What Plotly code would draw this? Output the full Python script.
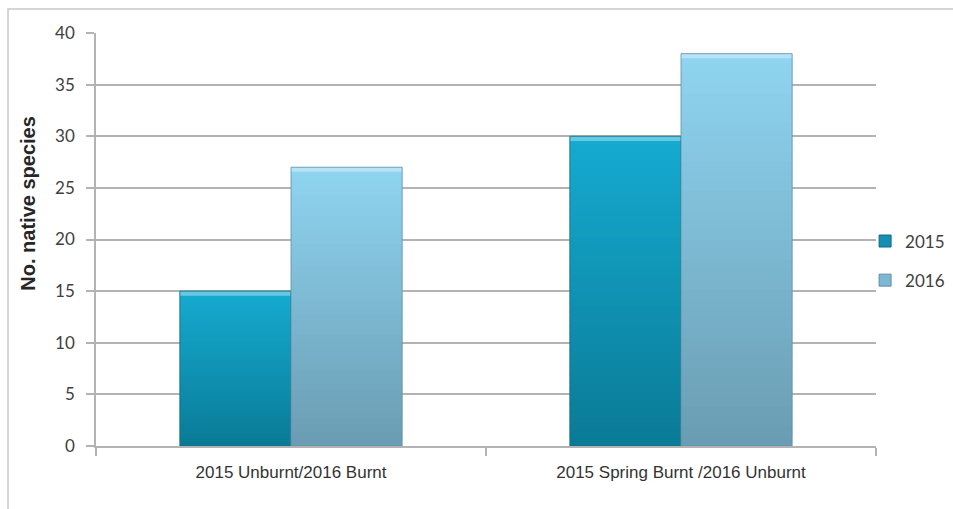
import plotly.graph_objects as go

# Native species counts per treatment, by survey year
categories = ["2015 Unburnt/2016 Burnt", "2015 Spring Burnt /2016 Unburnt"]
years = ["2015", "2016"]
species_2015 = [15, 30]
species_2016 = [27, 38]
y_ticks = [0, 5, 10, 15, 20, 25, 30, 35, 40]

series = {"2015": species_2015, "2016": species_2016}
# top colour, bottom colour, edge colour, legend swatch
styles = {
    "2015": ("#15aad0", "#0a7b97", "#0b6e87", "#1590b2"),
    "2016": ("#8fd4f0", "#6a9db3", "#5f8fa5", "#7cb8d2"),
}

N_SLICES = 40
BEVEL = 0.45


def hex_to_rgb(h):
    h = h.lstrip("#")
    return tuple(int(h[i:i + 2], 16) for i in (0, 2, 4))


def mix(c1, c2, t):
    a, b = hex_to_rgb(c1), hex_to_rgb(c2)
    return "rgb({},{},{})".format(*[round(a[i] + (b[i] - a[i]) * t) for i in range(3)])


fig = go.Figure()

for year in years:
    vals = series[year]
    top, bottom, edge, swatch = styles[year]
    # vertical gradient: stack thin slices from the bottom of each bar up to its value;
    # every slice but the last overlaps the next one so no seams show
    for k in range(N_SLICES):
        t = k / (N_SLICES - 1)
        stretch = 1.8 if k < N_SLICES - 1 else 1.0
        fig.add_trace(go.Bar(
            x=categories,
            y=[v / N_SLICES * stretch for v in vals],
            base=[v * k / N_SLICES for v in vals],
            offsetgroup=year,
            marker=dict(color=mix(bottom, top, t), line=dict(width=0)),
            showlegend=False,
            hoverinfo="skip",
        ))
    # lighter bevel along the top edge
    fig.add_trace(go.Bar(
        x=categories,
        y=[BEVEL for v in vals],
        base=[v - BEVEL for v in vals],
        offsetgroup=year,
        marker=dict(color=mix(top, "#ffffff", 0.35), line=dict(width=0)),
        showlegend=False,
        hoverinfo="skip",
    ))
    # outline of each bar
    fig.add_trace(go.Bar(
        x=categories,
        y=vals,
        name=year,
        offsetgroup=year,
        marker=dict(color="rgba(0,0,0,0)", line=dict(color=edge, width=0.8)),
        showlegend=False,
        hovertemplate="%{x}<br>" + year + ": %{y}<extra></extra>",
    ))
    # legend swatch
    fig.add_trace(go.Bar(
        x=[None], y=[None], name=year, legendgroup=year,
        marker=dict(color=swatch, line=dict(color=edge, width=1)),
        showlegend=True, hoverinfo="skip",
    ))

fig.update_layout(
    width=953,
    height=509,
    margin=dict(l=96, r=77, t=33, b=63, autoexpand=False),
    paper_bgcolor="white",
    plot_bgcolor="white",
    barmode="group",
    bargap=0.43,
    bargroupgap=0,
    showlegend=True,
    legend=dict(
        x=0.986, y=0.448, xanchor="left", yanchor="middle",
        font=dict(family="Lato, Open Sans, sans-serif", size=17, color="#404040"),
        tracegroupgap=14,
        itemwidth=30,
        bgcolor="rgba(0,0,0,0)",
    ),
    xaxis=dict(
        showgrid=False,
        showline=True, linecolor="#b3b3b3", linewidth=1.5,
        ticks="outside", tickson="boundaries", ticklen=8, tickcolor="#b3b3b3", tickwidth=1.5,
        ticklabelstandoff=10,
        tickfont=dict(family="Liberation Sans Narrow, Arial Narrow, Liberation Sans, sans-serif",
                      size=17, color="#333333"),
    ),
    yaxis=dict(
        range=[0, 40],
        tickvals=y_ticks,
        showgrid=True, gridcolor="#b3b3b3", gridwidth=1.5,
        showline=True, linecolor="#b3b3b3", linewidth=1.5,
        ticks="outside", ticklen=8, tickcolor="#b3b3b3", tickwidth=1.5,
        ticklabelstandoff=8,
        zeroline=False,
        tickfont=dict(family="Lato, Open Sans, sans-serif", size=17, color="#404040"),
    ),
    annotations=[dict(
        text="<b>No. native species</b>",
        xref="paper", yref="paper",
        x=-0.0865, y=0.588,
        xanchor="center", yanchor="middle",
        textangle=-90, showarrow=False,
        font=dict(family="Liberation Sans, Arial, sans-serif", size=20, color="#262626"),
    )],
    shapes=[dict(
        type="rect", xref="paper", yref="paper",
        x0=-0.1128, x1=1.3, y0=-0.3, y1=1.0581,
        line=dict(color="#c8c8c8", width=1.5),
        fillcolor="rgba(0,0,0,0)", layer="below",
    )],
)

fig.write_html("out.html")
